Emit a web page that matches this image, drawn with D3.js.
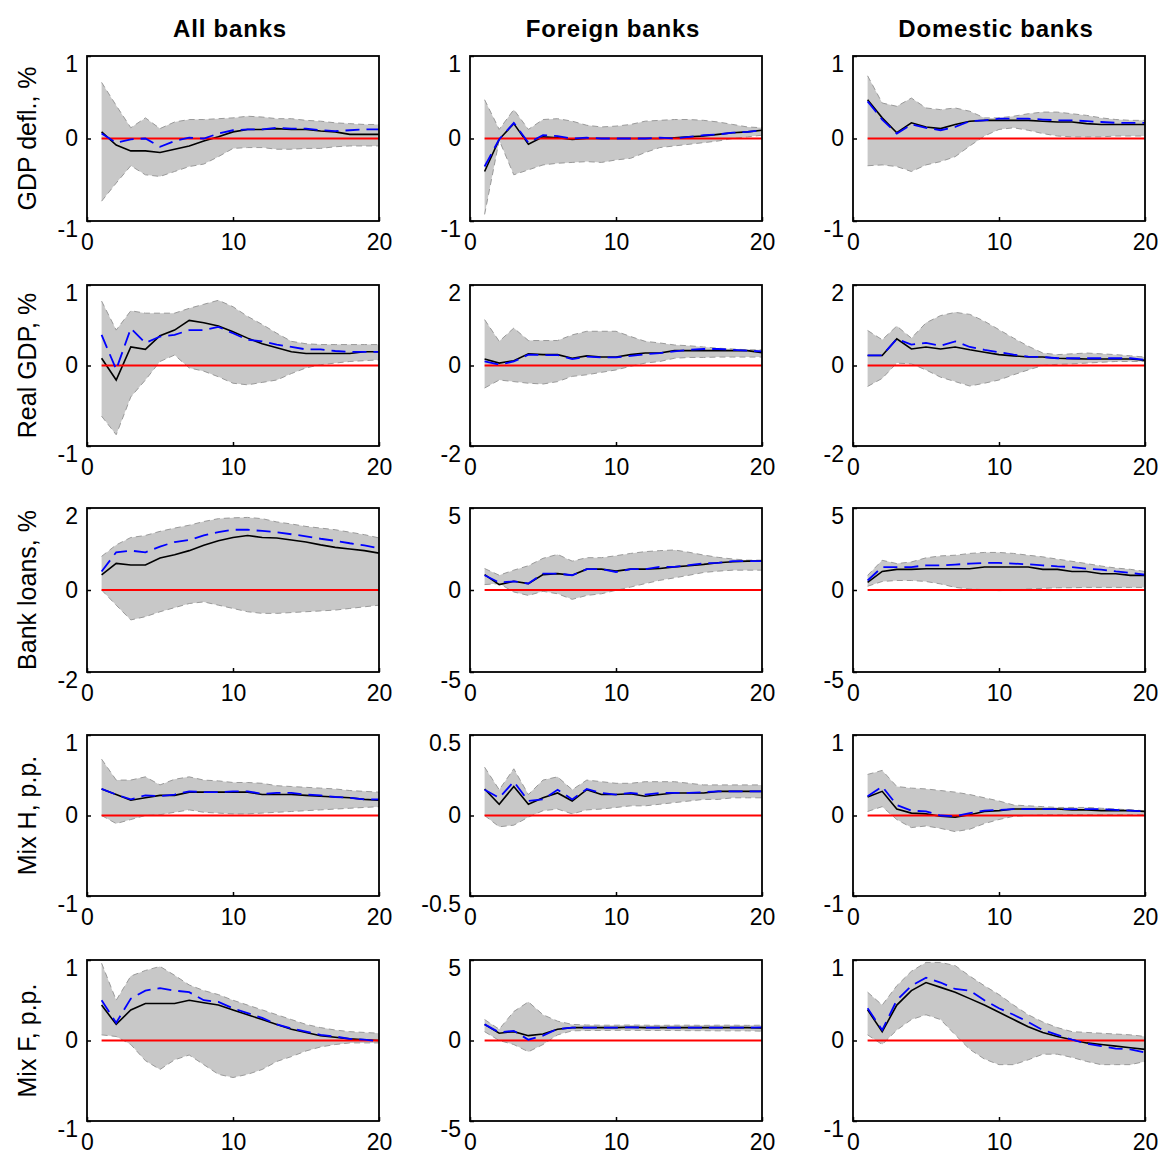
<!DOCTYPE html>
<html>
<head>
<meta charset="utf-8">
<script src="https://cdn.jsdelivr.net/npm/d3@7"></script>
<style>
  body { margin: 0; background: #fff; }
  svg { display: block; }
  .tick text { font-family: "Liberation Sans", Arial, sans-serif; font-size: 23px; fill: #000; }
</style>
</head>
<body>
<svg id="chart" width="1158" height="1156"></svg>
<script>
// Impulse horizons (quarters)
const horizons = [1, 2, 3, 4, 5, 6, 7, 8, 9, 10, 11, 12, 13, 14, 15, 16, 17, 18, 19, 20];
const xTicks = [0, 10, 20];

const columnTitles = ["All banks", "Foreign banks", "Domestic banks"];
const rowLabels = ["GDP defl., %", "Real GDP, %", "Bank loans, %", "Mix H, p.p.", "Mix F, p.p."];
// symmetric y-limits per row / column
const yLimits = [[1, 1, 1], [1, 2, 2], [2, 5, 5], [1, 0.5, 1], [1, 5, 1]];

// ---- GDP deflator ----
const deflAllHi  = [0.68, 0.40, 0.13, 0.25, 0.12, 0.20, 0.23, 0.23, 0.24, 0.25, 0.27, 0.26, 0.24, 0.24, 0.22, 0.21, 0.19, 0.18, 0.17, 0.17];
const deflAllLo  = [-0.76, -0.54, -0.33, -0.44, -0.46, -0.40, -0.34, -0.31, -0.22, -0.12, -0.11, -0.11, -0.13, -0.13, -0.12, -0.12, -0.10, -0.09, -0.09, -0.09];
const deflAllMed = [0.08, -0.08, -0.15, -0.15, -0.17, -0.13, -0.09, -0.03, 0.02, 0.08, 0.11, 0.11, 0.12, 0.11, 0.11, 0.09, 0.08, 0.05, 0.05, 0.05];
const deflAllEst = [0.06, -0.05, -0.01, 0.00, -0.10, -0.03, 0.01, 0.00, 0.06, 0.10, 0.11, 0.11, 0.13, 0.12, 0.12, 0.10, 0.09, 0.10, 0.11, 0.11];

const deflForHi  = [0.47, 0.11, 0.35, 0.11, 0.23, 0.24, 0.21, 0.16, 0.14, 0.15, 0.17, 0.21, 0.22, 0.23, 0.23, 0.22, 0.20, 0.17, 0.14, 0.13];
const deflForLo  = [-0.92, -0.02, -0.44, -0.38, -0.32, -0.30, -0.29, -0.28, -0.29, -0.26, -0.24, -0.17, -0.11, -0.09, -0.07, -0.05, -0.03, 0.00, 0.02, 0.04];
const deflForMed = [-0.40, -0.01, 0.18, -0.07, 0.02, 0.01, -0.01, 0.00, 0.00, 0.00, 0.00, 0.00, 0.00, 0.01, 0.02, 0.03, 0.05, 0.07, 0.08, 0.10];
const deflForEst = [-0.34, -0.01, 0.19, -0.05, 0.04, 0.03, 0.00, 0.01, 0.00, 0.00, 0.00, 0.00, 0.01, 0.00, 0.02, 0.04, 0.05, 0.07, 0.08, 0.10];

const deflDomHi  = [0.76, 0.43, 0.39, 0.49, 0.37, 0.35, 0.37, 0.33, 0.25, 0.25, 0.27, 0.30, 0.32, 0.32, 0.30, 0.28, 0.25, 0.23, 0.22, 0.22];
const deflDomLo  = [-0.33, -0.32, -0.34, -0.40, -0.32, -0.28, -0.22, -0.09, 0.03, 0.11, 0.13, 0.10, 0.06, 0.03, 0.02, 0.02, 0.02, 0.03, 0.03, 0.03];
const deflDomMed = [0.47, 0.25, 0.07, 0.19, 0.14, 0.12, 0.17, 0.21, 0.22, 0.22, 0.22, 0.22, 0.21, 0.20, 0.20, 0.18, 0.17, 0.17, 0.17, 0.17];
const deflDomEst = [0.45, 0.23, 0.06, 0.17, 0.13, 0.10, 0.14, 0.21, 0.22, 0.24, 0.24, 0.24, 0.23, 0.22, 0.22, 0.21, 0.20, 0.19, 0.19, 0.19];

// ---- Real GDP ----
const gdpAllHi  = [0.80, 0.44, 0.68, 0.65, 0.65, 0.65, 0.71, 0.76, 0.81, 0.73, 0.61, 0.51, 0.40, 0.30, 0.27, 0.26, 0.26, 0.26, 0.26, 0.26];
const gdpAllLo  = [-0.63, -0.86, -0.39, -0.18, 0.05, 0.13, -0.03, -0.07, -0.14, -0.22, -0.24, -0.21, -0.18, -0.10, -0.03, 0.01, 0.03, 0.05, 0.06, 0.07];
const gdpAllMed = [0.09, -0.18, 0.23, 0.20, 0.37, 0.44, 0.56, 0.53, 0.49, 0.42, 0.34, 0.27, 0.22, 0.17, 0.15, 0.15, 0.15, 0.15, 0.17, 0.17];
const gdpAllEst = [0.38, -0.05, 0.46, 0.28, 0.36, 0.38, 0.44, 0.44, 0.48, 0.40, 0.32, 0.30, 0.26, 0.23, 0.20, 0.20, 0.18, 0.17, 0.17, 0.17];

const gdpForHi  = [1.14, 0.60, 0.93, 0.62, 0.62, 0.62, 0.76, 0.85, 0.85, 0.85, 0.72, 0.60, 0.56, 0.51, 0.49, 0.46, 0.43, 0.41, 0.39, 0.39];
const gdpForLo  = [-0.56, -0.36, -0.40, -0.44, -0.46, -0.40, -0.27, -0.23, -0.17, -0.11, -0.02, 0.06, 0.10, 0.18, 0.20, 0.20, 0.21, 0.21, 0.21, 0.21];
const gdpForMed = [0.16, 0.06, 0.12, 0.29, 0.27, 0.27, 0.18, 0.24, 0.21, 0.21, 0.27, 0.31, 0.31, 0.37, 0.37, 0.37, 0.37, 0.37, 0.37, 0.32];
const gdpForEst = [0.10, 0.02, 0.10, 0.27, 0.26, 0.26, 0.16, 0.22, 0.20, 0.20, 0.24, 0.28, 0.31, 0.35, 0.39, 0.41, 0.41, 0.39, 0.37, 0.35];

const gdpDomHi  = [0.87, 0.64, 0.98, 0.68, 1.06, 1.24, 1.32, 1.27, 1.10, 0.89, 0.68, 0.48, 0.31, 0.27, 0.29, 0.31, 0.29, 0.27, 0.24, 0.21];
const gdpDomLo  = [-0.52, -0.32, 0.06, 0.04, -0.11, -0.29, -0.40, -0.51, -0.44, -0.36, -0.23, -0.11, 0.00, 0.03, 0.04, 0.06, 0.08, 0.10, 0.10, 0.10];
const gdpDomMed = [0.25, 0.25, 0.66, 0.41, 0.46, 0.41, 0.46, 0.39, 0.33, 0.27, 0.24, 0.21, 0.21, 0.18, 0.17, 0.16, 0.16, 0.16, 0.16, 0.13];
const gdpDomEst = [0.25, 0.25, 0.66, 0.52, 0.56, 0.49, 0.60, 0.46, 0.39, 0.33, 0.27, 0.22, 0.21, 0.18, 0.18, 0.18, 0.18, 0.18, 0.18, 0.14];

// ---- Bank loans ----
const loanAllHi  = [0.82, 1.10, 1.28, 1.33, 1.43, 1.51, 1.58, 1.67, 1.74, 1.76, 1.77, 1.74, 1.66, 1.61, 1.55, 1.51, 1.47, 1.41, 1.35, 1.27];
const loanAllLo  = [0.00, -0.37, -0.73, -0.65, -0.53, -0.43, -0.33, -0.29, -0.37, -0.45, -0.53, -0.57, -0.57, -0.55, -0.53, -0.51, -0.49, -0.45, -0.41, -0.37];
const loanAllMed = [0.37, 0.65, 0.61, 0.61, 0.78, 0.86, 0.96, 1.09, 1.20, 1.28, 1.33, 1.28, 1.27, 1.22, 1.17, 1.10, 1.04, 1.00, 0.96, 0.90];
const loanAllEst = [0.45, 0.92, 0.96, 0.92, 1.06, 1.17, 1.22, 1.33, 1.41, 1.47, 1.47, 1.44, 1.41, 1.36, 1.31, 1.25, 1.20, 1.14, 1.09, 1.02];

const loanForHi  = [1.31, 0.90, 1.21, 1.48, 1.93, 2.17, 1.76, 1.97, 1.97, 2.09, 2.23, 2.34, 2.40, 2.44, 2.30, 2.13, 1.99, 1.89, 1.82, 1.82];
const loanForLo  = [0.33, 0.39, -0.12, -0.33, -0.08, -0.23, -0.57, -0.33, -0.23, -0.02, 0.18, 0.39, 0.59, 0.74, 0.90, 1.07, 1.15, 1.21, 1.21, 1.21];
const loanForMed = [0.94, 0.33, 0.53, 0.39, 0.94, 1.00, 0.90, 1.27, 1.27, 1.15, 1.27, 1.27, 1.31, 1.41, 1.48, 1.56, 1.66, 1.72, 1.76, 1.76];
const loanForEst = [0.90, 0.45, 0.53, 0.39, 1.00, 1.00, 0.90, 1.27, 1.27, 1.10, 1.27, 1.27, 1.41, 1.41, 1.52, 1.62, 1.66, 1.76, 1.76, 1.76];

const loanDomHi  = [0.89, 1.81, 1.61, 1.71, 1.96, 2.08, 2.12, 2.23, 2.29, 2.29, 2.23, 2.12, 2.02, 1.88, 1.75, 1.61, 1.46, 1.34, 1.26, 1.13];
const loanDomLo  = [0.23, 0.52, 0.58, 0.58, 0.52, 0.37, 0.16, 0.06, 0.02, -0.04, 0.00, 0.06, 0.10, 0.14, 0.14, 0.16, 0.16, 0.16, 0.16, 0.16];
const loanDomMed = [0.47, 1.13, 1.26, 1.26, 1.30, 1.30, 1.30, 1.30, 1.40, 1.40, 1.40, 1.40, 1.26, 1.26, 1.13, 1.13, 0.99, 0.99, 0.89, 0.89];
const loanDomEst = [0.58, 1.40, 1.40, 1.40, 1.50, 1.50, 1.55, 1.61, 1.65, 1.65, 1.61, 1.57, 1.50, 1.44, 1.40, 1.30, 1.24, 1.13, 1.05, 0.93];

// ---- Mix H ----
const mixHAllHi  = [0.70, 0.44, 0.44, 0.48, 0.38, 0.45, 0.48, 0.44, 0.43, 0.41, 0.41, 0.40, 0.37, 0.36, 0.35, 0.34, 0.33, 0.31, 0.30, 0.29];
const mixHAllLo  = [0.00, -0.10, -0.05, 0.00, 0.01, 0.04, 0.07, 0.04, 0.03, 0.02, 0.02, 0.03, 0.04, 0.05, 0.06, 0.07, 0.08, 0.09, 0.10, 0.11];
const mixHAllMed = [0.33, 0.26, 0.19, 0.22, 0.25, 0.25, 0.29, 0.29, 0.29, 0.29, 0.29, 0.26, 0.26, 0.26, 0.25, 0.24, 0.23, 0.22, 0.20, 0.19];
const mixHAllEst = [0.33, 0.26, 0.20, 0.25, 0.24, 0.26, 0.30, 0.29, 0.29, 0.30, 0.30, 0.27, 0.28, 0.28, 0.26, 0.25, 0.23, 0.22, 0.20, 0.20];

const mixHForHi  = [0.30, 0.16, 0.29, 0.13, 0.22, 0.24, 0.16, 0.22, 0.21, 0.20, 0.20, 0.21, 0.21, 0.21, 0.20, 0.19, 0.19, 0.19, 0.19, 0.19];
const mixHForLo  = [0.00, -0.07, -0.06, -0.01, 0.03, 0.04, 0.01, 0.035, 0.04, 0.05, 0.06, 0.06, 0.07, 0.08, 0.09, 0.10, 0.10, 0.11, 0.11, 0.11];
const mixHForMed = [0.165, 0.07, 0.18, 0.07, 0.11, 0.14, 0.09, 0.16, 0.13, 0.13, 0.135, 0.12, 0.13, 0.14, 0.14, 0.14, 0.15, 0.15, 0.15, 0.15];
const mixHForEst = [0.16, 0.11, 0.21, 0.09, 0.10, 0.16, 0.10, 0.165, 0.14, 0.13, 0.14, 0.13, 0.14, 0.14, 0.14, 0.145, 0.15, 0.15, 0.15, 0.15];

const mixHDomHi  = [0.51, 0.56, 0.36, 0.34, 0.33, 0.31, 0.29, 0.26, 0.22, 0.18, 0.13, 0.12, 0.11, 0.10, 0.10, 0.10, 0.09, 0.08, 0.07, 0.06];
const mixHDomLo  = [0.05, 0.11, -0.05, -0.15, -0.13, -0.16, -0.20, -0.17, -0.10, -0.05, -0.01, 0.00, 0.01, 0.01, 0.01, 0.01, 0.01, 0.01, 0.01, 0.01];
const mixHDomMed = [0.23, 0.30, 0.08, 0.03, 0.02, -0.01, -0.02, 0.01, 0.05, 0.06, 0.08, 0.08, 0.08, 0.08, 0.07, 0.07, 0.06, 0.06, 0.06, 0.05];
const mixHDomEst = [0.24, 0.36, 0.13, 0.06, 0.05, 0.00, -0.01, 0.03, 0.06, 0.07, 0.08, 0.08, 0.08, 0.08, 0.08, 0.08, 0.08, 0.07, 0.06, 0.05];

// ---- Mix F ----
const mixFAllHi  = [0.96, 0.50, 0.80, 0.87, 0.92, 0.81, 0.69, 0.62, 0.57, 0.50, 0.44, 0.38, 0.32, 0.26, 0.20, 0.16, 0.13, 0.11, 0.10, 0.09];
const mixFAllLo  = [0.07, 0.05, -0.05, -0.25, -0.36, -0.24, -0.18, -0.30, -0.42, -0.46, -0.42, -0.36, -0.26, -0.20, -0.13, -0.08, -0.05, -0.03, -0.03, -0.03];
const mixFAllMed = [0.44, 0.20, 0.38, 0.46, 0.46, 0.46, 0.50, 0.47, 0.44, 0.38, 0.32, 0.26, 0.20, 0.14, 0.10, 0.06, 0.04, 0.02, 0.01, 0.00];
const mixFAllEst = [0.50, 0.22, 0.52, 0.62, 0.65, 0.62, 0.60, 0.50, 0.48, 0.40, 0.34, 0.28, 0.20, 0.15, 0.11, 0.07, 0.05, 0.02, 0.01, -0.01];

const mixFForHi  = [1.30, 0.70, 1.80, 2.40, 1.60, 1.20, 1.00, 0.96, 0.95, 0.95, 0.96, 0.95, 0.94, 0.95, 0.95, 0.94, 0.95, 0.95, 0.94, 0.95];
const mixFForLo  = [0.55, 0.00, -0.25, -0.70, -0.25, 0.35, 0.60, 0.62, 0.62, 0.63, 0.63, 0.62, 0.62, 0.62, 0.61, 0.61, 0.60, 0.60, 0.60, 0.58];
const mixFForMed = [1.00, 0.45, 0.55, 0.30, 0.40, 0.70, 0.80, 0.80, 0.80, 0.80, 0.82, 0.80, 0.80, 0.80, 0.80, 0.80, 0.80, 0.80, 0.80, 0.78];
const mixFForEst = [1.00, 0.50, 0.60, 0.05, 0.30, 0.72, 0.80, 0.80, 0.80, 0.80, 0.82, 0.80, 0.80, 0.80, 0.80, 0.80, 0.80, 0.80, 0.80, 0.82];

const mixFDomHi  = [0.60, 0.44, 0.68, 0.86, 0.97, 0.97, 0.93, 0.80, 0.68, 0.57, 0.44, 0.32, 0.23, 0.16, 0.11, 0.10, 0.09, 0.08, 0.07, 0.05];
const mixFDomLo  = [0.07, -0.05, 0.13, 0.26, 0.32, 0.26, 0.07, -0.11, -0.23, -0.30, -0.30, -0.24, -0.17, -0.17, -0.21, -0.26, -0.30, -0.30, -0.30, -0.26];
const mixFDomMed = [0.38, 0.11, 0.44, 0.62, 0.72, 0.66, 0.60, 0.52, 0.44, 0.35, 0.26, 0.17, 0.10, 0.05, 0.01, -0.03, -0.05, -0.07, -0.09, -0.11];
const mixFDomEst = [0.40, 0.13, 0.50, 0.68, 0.78, 0.72, 0.64, 0.62, 0.50, 0.40, 0.32, 0.23, 0.13, 0.07, 0.01, -0.04, -0.07, -0.10, -0.11, -0.15];

// panel grid: rows = variables, columns = bank groups
const panels = [
  [[deflAllLo, deflAllHi, deflAllMed, deflAllEst], [deflForLo, deflForHi, deflForMed, deflForEst], [deflDomLo, deflDomHi, deflDomMed, deflDomEst]],
  [[gdpAllLo, gdpAllHi, gdpAllMed, gdpAllEst], [gdpForLo, gdpForHi, gdpForMed, gdpForEst], [gdpDomLo, gdpDomHi, gdpDomMed, gdpDomEst]],
  [[loanAllLo, loanAllHi, loanAllMed, loanAllEst], [loanForLo, loanForHi, loanForMed, loanForEst], [loanDomLo, loanDomHi, loanDomMed, loanDomEst]],
  [[mixHAllLo, mixHAllHi, mixHAllMed, mixHAllEst], [mixHForLo, mixHForHi, mixHForMed, mixHForEst], [mixHDomLo, mixHDomHi, mixHDomMed, mixHDomEst]],
  [[mixFAllLo, mixFAllHi, mixFAllMed, mixFAllEst], [mixFForLo, mixFForHi, mixFForMed, mixFForEst], [mixFDomLo, mixFDomHi, mixFDomMed, mixFDomEst]]
];

// ---- layout ----
const colLeft = [87, 470, 853];
const panelW = 292;
const rowTop = [56, 285, 508, 735, 960];
const rowBottom = [221, 446, 672, 896, 1121];

const svg = d3.select("#chart");
const font = '"Liberation Sans", Arial, sans-serif';

columnTitles.forEach((t, c) => {
  svg.append("text")
    .attr("x", colLeft[c] + panelW / 2 - 3)
    .attr("y", 37)
    .attr("text-anchor", "middle")
    .attr("font-family", font)
    .attr("font-weight", "bold")
    .attr("font-size", 24)
    .attr("letter-spacing", 0.8)
    .text(t);
});

rowLabels.forEach((t, r) => {
  const cy = (rowTop[r] + rowBottom[r]) / 2;
  svg.append("text")
    .attr("transform", `translate(36,${cy}) rotate(-90)`)
    .attr("text-anchor", "middle")
    .attr("font-family", font)
    .attr("font-size", 25)
    .text(t);
});

panels.forEach((row, r) => {
  row.forEach(([lo, hi, med, est], c) => {
    const L = yLimits[r][c];
    const x = d3.scaleLinear().domain([0, 20]).range([colLeft[c], colLeft[c] + panelW]);
    const y = d3.scaleLinear().domain([-L, L]).range([rowBottom[r], rowTop[r]]);
    const g = svg.append("g");

    const pts = horizons.map((h, i) => ({ h, lo: lo[i], hi: hi[i], med: med[i], est: est[i] }));

    // confidence band
    g.append("path").datum(pts)
      .attr("d", d3.area().x(d => x(d.h)).y0(d => y(d.lo)).y1(d => y(d.hi)))
      .attr("fill", "#c8c8c8");
    ["lo", "hi"].forEach(k => {
      g.append("path").datum(pts)
        .attr("d", d3.line().x(d => x(d.h)).y(d => y(d[k])))
        .attr("fill", "none")
        .attr("stroke", "#9a9a9a")
        .attr("stroke-width", 1)
        .attr("stroke-dasharray", "6,4");
    });

    // median response
    g.append("path").datum(pts)
      .attr("d", d3.line().x(d => x(d.h)).y(d => y(d.med)))
      .attr("fill", "none").attr("stroke", "#000").attr("stroke-width", 1.6);

    // zero reference
    g.append("line")
      .attr("x1", x(horizons[0])).attr("x2", x(horizons[horizons.length - 1]))
      .attr("y1", y(0)).attr("y2", y(0))
      .attr("stroke", "#ff0000").attr("stroke-width", 1.8);

    // point estimate
    g.append("path").datum(pts)
      .attr("d", d3.line().x(d => x(d.h)).y(d => y(d.est)))
      .attr("fill", "none").attr("stroke", "#0000ff").attr("stroke-width", 1.8)
      .attr("stroke-dasharray", "14,7");

    // axes
    const ya = g.append("g").attr("transform", `translate(${colLeft[c]},0)`)
      .call(d3.axisLeft(y).tickValues([-L, 0, L]).tickSize(-4).tickPadding(9).tickFormat(d => String(d)));
    ya.select(".domain").remove();
    ya.selectAll(".tick text").filter(d => d !== 0).attr("y", 8);

    const xa = g.append("g").attr("transform", `translate(0,${rowBottom[r]})`)
      .call(d3.axisBottom(x).tickValues(xTicks).tickSize(-4).tickPadding(13).tickFormat(d => String(d)));
    xa.select(".domain").remove();
    g.selectAll(".tick line").attr("stroke", "#000").attr("stroke-width", 1.5);

    // axes box
    g.append("rect")
      .attr("x", colLeft[c]).attr("y", rowTop[r])
      .attr("width", panelW).attr("height", rowBottom[r] - rowTop[r])
      .attr("fill", "none").attr("stroke", "#000").attr("stroke-width", 1.8);
  });
});
</script>
</body>
</html>
